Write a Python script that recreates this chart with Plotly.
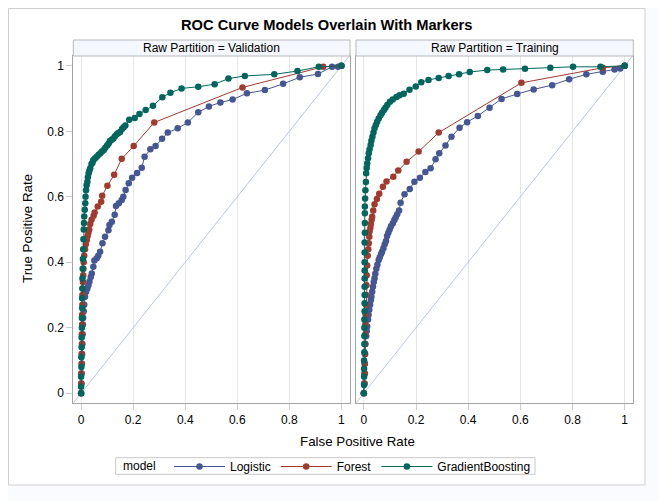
import plotly.graph_objects as go

# ---------------- data ----------------
MODELS = ["Logistic", "Forest", "GradientBoosting"]
PANELS = ["Validation", "Training"]
TICK_VALS = [0, 0.2, 0.4, 0.6, 0.8, 1]
TICK_TEXT = ["0", "0.2", "0.4", "0.6", "0.8", "1"]
DIAG = [-0.1, 1.1]

# Validation partition
VAL_LOGISTIC_FPR = [0, 0.001, 0.002, 0.003, 0.004, 0.005, 0.006, 0.007, 0.008, 0.010,
                    0.012, 0.015, 0.019, 0.024, 0.028, 0.032, 0.037, 0.041, 0.047, 0.051,
                    0.060, 0.066, 0.073, 0.082, 0.092, 0.105, 0.109, 0.118, 0.129, 0.134,
                    0.145, 0.156, 0.162, 0.171, 0.183, 0.196, 0.215, 0.233, 0.244, 0.266,
                    0.286, 0.311, 0.333, 0.371, 0.410, 0.450, 0.491, 0.535, 0.582, 0.637,
                    0.706, 0.776, 0.840, 0.910, 0.964, 0.987, 1.0]
VAL_LOGISTIC_TPR = [0, 0.03, 0.06, 0.09, 0.12, 0.15, 0.18, 0.21, 0.23, 0.25,
                    0.27, 0.295, 0.31, 0.32, 0.33, 0.341, 0.355, 0.366, 0.386, 0.405,
                    0.412, 0.42, 0.432, 0.458, 0.478, 0.498, 0.514, 0.524, 0.545, 0.572,
                    0.580, 0.590, 0.600, 0.621, 0.641, 0.658, 0.673, 0.689, 0.722, 0.745,
                    0.755, 0.777, 0.796, 0.809, 0.827, 0.858, 0.876, 0.888, 0.897, 0.916,
                    0.926, 0.945, 0.965, 0.975, 0.997, 0.997, 1.0]

VAL_FOREST_FPR = [0, 0.001, 0.001, 0.002, 0.002, 0.003, 0.003, 0.004, 0.004, 0.005,
                  0.005, 0.006, 0.007, 0.008, 0.009, 0.010, 0.012, 0.015, 0.018, 0.022,
                  0.025, 0.028, 0.031, 0.035, 0.040, 0.048, 0.052, 0.064, 0.077, 0.081,
                  0.101, 0.127, 0.156, 0.202, 0.281, 0.620, 0.930, 1.0]
VAL_FOREST_TPR = [0, 0.03, 0.06, 0.09, 0.12, 0.15, 0.18, 0.21, 0.24, 0.27,
                  0.30, 0.32, 0.34, 0.36, 0.38, 0.40, 0.42, 0.44, 0.455, 0.468,
                  0.48, 0.49, 0.50, 0.517, 0.53, 0.542, 0.552, 0.570, 0.585, 0.603,
                  0.634, 0.667, 0.716, 0.755, 0.827, 0.934, 0.997, 1.0]

VAL_GB_FPR = [0, 0, 0, 0.001, 0.001, 0.002, 0.002, 0.003, 0.003, 0.004,
              0.004, 0.005, 0.005, 0.006, 0.007, 0.008, 0.009, 0.010, 0.011, 0.012,
              0.014, 0.016, 0.017, 0.019, 0.021, 0.024, 0.026, 0.029, 0.032, 0.035,
              0.040, 0.044, 0.047, 0.053, 0.060, 0.067, 0.074, 0.080, 0.087, 0.093,
              0.100, 0.106, 0.111, 0.118, 0.124, 0.130, 0.137, 0.143, 0.150, 0.157,
              0.163, 0.170, 0.185, 0.206, 0.224, 0.248, 0.276, 0.312, 0.343, 0.386,
              0.450, 0.513, 0.566, 0.629, 0.742, 0.831, 0.913, 1.0]
VAL_GB_TPR = [0, 0.02, 0.05, 0.08, 0.11, 0.14, 0.17, 0.20, 0.23, 0.26,
              0.29, 0.32, 0.35, 0.38, 0.41, 0.44, 0.47, 0.50, 0.52, 0.54,
              0.56, 0.58, 0.60, 0.62, 0.635, 0.646, 0.66, 0.672, 0.68, 0.687,
              0.70, 0.705, 0.712, 0.717, 0.722, 0.728, 0.733, 0.738, 0.743, 0.75,
              0.757, 0.763, 0.770, 0.774, 0.778, 0.785, 0.791, 0.795, 0.798, 0.807,
              0.812, 0.818, 0.835, 0.841, 0.853, 0.865, 0.878, 0.904, 0.918, 0.931,
              0.936, 0.944, 0.961, 0.969, 0.974, 0.984, 0.997, 1.0]

# Training partition
TRN_LOGISTIC_FPR = [0, 0.001, 0.002, 0.003, 0.004, 0.006, 0.009, 0.011, 0.013, 0.016,
                    0.018, 0.021, 0.024, 0.027, 0.029, 0.032, 0.035, 0.038, 0.041, 0.044,
                    0.048, 0.052, 0.057, 0.061, 0.066, 0.070, 0.075, 0.080, 0.085, 0.089,
                    0.094, 0.099, 0.104, 0.111, 0.117, 0.122, 0.128, 0.135, 0.141, 0.156,
                    0.176, 0.194, 0.215, 0.236, 0.256, 0.275, 0.289, 0.313, 0.336, 0.367,
                    0.396, 0.437, 0.482, 0.528, 0.588, 0.651, 0.722, 0.787, 0.853, 0.916,
                    0.961, 0.983, 1.0]
TRN_LOGISTIC_TPR = [0, 0.03, 0.06, 0.09, 0.12, 0.15, 0.175, 0.19, 0.204, 0.225,
                    0.24, 0.255, 0.27, 0.285, 0.295, 0.31, 0.325, 0.34, 0.351, 0.365,
                    0.38, 0.392, 0.407, 0.415, 0.425, 0.432, 0.443, 0.455, 0.465, 0.48,
                    0.49, 0.50, 0.51, 0.519, 0.529, 0.537, 0.547, 0.558, 0.582, 0.608,
                    0.624, 0.646, 0.658, 0.676, 0.687, 0.715, 0.733, 0.757, 0.783, 0.811,
                    0.828, 0.847, 0.872, 0.899, 0.914, 0.928, 0.941, 0.959, 0.974, 0.982,
                    0.989, 0.992, 1.0]

TRN_FOREST_FPR = [0, 0.003, 0.004, 0.004, 0.005, 0.005, 0.006, 0.006, 0.007, 0.008,
                  0.009, 0.010, 0.011, 0.013, 0.015, 0.017, 0.019, 0.021, 0.022, 0.025,
                  0.027, 0.030, 0.032, 0.036, 0.041, 0.050, 0.059, 0.073, 0.087, 0.113,
                  0.132, 0.164, 0.210, 0.287, 0.604, 0.916, 1.0]
TRN_FOREST_TPR = [0, 0.03, 0.06, 0.09, 0.12, 0.15, 0.18, 0.21, 0.24, 0.27,
                  0.30, 0.33, 0.36, 0.39, 0.42, 0.44, 0.458, 0.478, 0.494, 0.505,
                  0.517, 0.53, 0.539, 0.558, 0.577, 0.593, 0.609, 0.631, 0.647, 0.661,
                  0.680, 0.707, 0.738, 0.796, 0.948, 0.994, 1.0]

TRN_GB_FPR = [0, 0.001, 0.001, 0.001, 0.001, 0.002, 0.002, 0.002, 0.002, 0.002,
              0.003, 0.003, 0.003, 0.003, 0.003, 0.003, 0.003, 0.003, 0.003, 0.004,
              0.004, 0.004, 0.004, 0.005, 0.006, 0.008, 0.009, 0.011, 0.013, 0.016,
              0.019, 0.022, 0.026, 0.029, 0.033, 0.037, 0.041, 0.046, 0.051, 0.057,
              0.064, 0.070, 0.077, 0.083, 0.090, 0.100, 0.111, 0.125, 0.137, 0.153,
              0.175, 0.199, 0.220, 0.248, 0.287, 0.325, 0.365, 0.406, 0.473, 0.534,
              0.618, 0.715, 0.802, 0.907, 1.0]
TRN_GB_TPR = [0, 0.025, 0.05, 0.075, 0.10, 0.125, 0.15, 0.175, 0.20, 0.225,
              0.25, 0.275, 0.30, 0.325, 0.35, 0.375, 0.40, 0.43, 0.46, 0.49,
              0.52, 0.55, 0.57, 0.595, 0.62, 0.645, 0.672, 0.688, 0.702, 0.718,
              0.733, 0.745, 0.758, 0.771, 0.783, 0.796, 0.809, 0.819, 0.829, 0.839,
              0.849, 0.857, 0.865, 0.872, 0.880, 0.890, 0.897, 0.905, 0.910, 0.915,
              0.927, 0.937, 0.950, 0.957, 0.963, 0.969, 0.974, 0.981, 0.987, 0.989,
              0.991, 0.994, 0.997, 0.997, 1.0]

SERIES = {
    "Validation": [(VAL_LOGISTIC_FPR, VAL_LOGISTIC_TPR),
                   (VAL_FOREST_FPR, VAL_FOREST_TPR),
                   (VAL_GB_FPR, VAL_GB_TPR)],
    "Training": [(TRN_LOGISTIC_FPR, TRN_LOGISTIC_TPR),
                 (TRN_FOREST_FPR, TRN_FOREST_TPR),
                 (TRN_GB_FPR, TRN_GB_TPR)],
}

# ---------------- style ----------------
OFF = 8                      # page body margin in the browser
W, H = 667 - OFF, 501 - OFF
COLORS = ["#445694", "#A23A2E", "#01665E"]
FONT = "Liberation Sans, Arial, sans-serif"
FRAME = "#a4a4a4"
GRID = "#e6e6e6"
DIAG_COLOR = "#b8c6ea"


def px(x):
    return (x - OFF) / W


def py(y):
    return 1 - (y - OFF) / H


PLOT_TOP, PLOT_BOTTOM = 56, 402.7
PANEL_X = [(73.3, 350.0), (356.0, 633.3)]
HEADER_TOP = 40

fig = go.Figure()

for pi, panel in enumerate(PANELS):
    xa = "x" if pi == 0 else "x2"
    ya = "y" if pi == 0 else "y2"
    fig.add_trace(go.Scatter(x=DIAG, y=DIAG, mode="lines", xaxis=xa, yaxis=ya,
                             line=dict(color=DIAG_COLOR, width=1),
                             showlegend=False, hoverinfo="skip"))
    for mi, model in enumerate(MODELS):
        fx, ty = SERIES[panel][mi]
        fig.add_trace(go.Scatter(
            x=fx, y=ty, mode="lines+markers", name=model, xaxis=xa, yaxis=ya,
            legendgroup=model, showlegend=(pi == 0),
            line=dict(color=COLORS[mi], width=1),
            marker=dict(color=COLORS[mi], size=6.5, symbol="circle"),
        ))

XR = [-0.03, 1.033]
YR = [-0.029, 1.03]
common_x = dict(range=XR, tickvals=TICK_VALS, ticktext=TICK_TEXT, showgrid=True,
                gridcolor=GRID, gridwidth=1, zeroline=False, showline=True,
                mirror=True, linecolor=FRAME, linewidth=1, ticks="outside",
                ticklen=6, tickcolor="#cccccc",
                tickfont=dict(family=FONT, size=12, color="#000000"))
common_y = dict(range=YR, tickvals=TICK_VALS, ticktext=TICK_TEXT, showgrid=False,
                zeroline=False, showline=True, mirror=True, linecolor=FRAME,
                linewidth=1, domain=[py(PLOT_BOTTOM), py(PLOT_TOP)])

fig.update_layout(
    width=W, height=H, autosize=False,
    margin=dict(l=0, r=0, t=0, b=0),
    paper_bgcolor="#fafbfe", plot_bgcolor="#ffffff",
    font=dict(family=FONT, size=12, color="#000000"),
    xaxis=dict(domain=[px(PANEL_X[0][0]), px(PANEL_X[0][1])], anchor="y", **common_x),
    xaxis2=dict(domain=[px(PANEL_X[1][0]), px(PANEL_X[1][1])], anchor="y2", **common_x),
    yaxis=dict(anchor="x", ticks="outside", ticklen=6, tickcolor="#cccccc",
               tickfont=dict(family=FONT, size=12, color="#000000"), **common_y),
    yaxis2=dict(anchor="x2", showticklabels=False, ticks="", matches="y", **common_y),
    showlegend=True,
    legend=dict(orientation="h", x=px(169), xanchor="left", y=py(452),
                yanchor="top", bgcolor="rgba(0,0,0,0)", borderwidth=0,
                font=dict(family=FONT, size=12, color="#000000"),
                itemwidth=51, tracegroupgap=0),
    hovermode=False,
)

shapes = [
    dict(type="rect", xref="paper", yref="paper", x0=0.0008, x1=px(645),
         y0=py(485), y1=0.999, fillcolor="#ffffff",
         line=dict(color="#cfcfcf", width=1), layer="below"),
    # legend frame
    dict(type="rect", xref="paper", yref="paper", x0=px(115.7), x1=px(535),
         y0=py(474.3), y1=py(457.7), fillcolor="#ffffff",
         line=dict(color="#c8c8c8", width=1), layer="below"),
]
annotations = [
    dict(text="ROC Curve Models Overlain With Markers", xref="paper", yref="paper",
         x=px(326), y=py(25), xanchor="center", yanchor="middle", showarrow=False,
         font=dict(family=FONT, size=14.67, color="#000000", weight="bold")),
    dict(text="False Positive Rate", xref="paper", yref="paper",
         x=px(357), y=py(441), xanchor="center", yanchor="middle", showarrow=False,
         font=dict(family=FONT, size=13.33, color="#000000")),
    dict(text="True Positive Rate", xref="paper", yref="paper",
         x=px(27), y=py(229), xanchor="center", yanchor="middle", showarrow=False,
         textangle=-90, font=dict(family=FONT, size=13.33, color="#000000")),
    dict(text="model", xref="paper", yref="paper",
         x=px(120.5), y=py(466), xanchor="left", yanchor="middle", showarrow=False,
         font=dict(family=FONT, size=12, color="#000000")),
]
for pi, panel in enumerate(PANELS):
    x0, x1 = PANEL_X[pi]
    shapes.append(dict(type="rect", xref="paper", yref="paper", x0=px(x0), x1=px(x1),
                       y0=py(PLOT_TOP), y1=py(HEADER_TOP), fillcolor="#f4f7fd",
                       line=dict(color="#b8b8b8", width=1), layer="above"))
    annotations.append(dict(text=f"Raw Partition = {panel}", xref="paper", yref="paper",
                            x=px((x0 + x1) / 2), y=py((HEADER_TOP + PLOT_TOP) / 2),
                            xanchor="center", yanchor="middle", showarrow=False,
                            font=dict(family=FONT, size=12, color="#000000")))

fig.update_layout(shapes=shapes, annotations=annotations)
fig.write_html("out.html")
